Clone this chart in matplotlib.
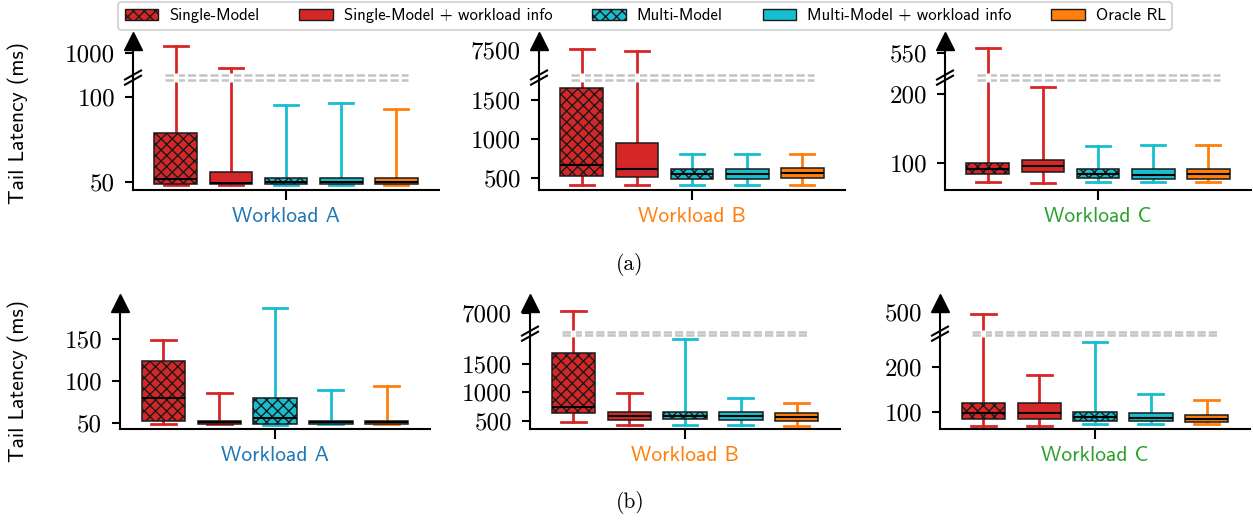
import numpy as np
import matplotlib; matplotlib.use("Agg")
import matplotlib.pyplot as plt
import matplotlib.transforms as mtransforms
from matplotlib.patches import Patch
from matplotlib.ticker import NullLocator

# ── Data (ms) ─────────────────────────────────────────────────────────────
METHODS   = ["Single-Model", "Single-Model + workload info", "Multi-Model",
             "Multi-Model + workload info", "Oracle RL"]
WORKLOADS = ["Workload A", "Workload B", "Workload C"]

# row (a): one inner list per workload, one value per method
A_WHISLO = [[48.5, 48.5, 48.5, 48.5, 48.5],
            [414, 414, 414, 414, 414],
            [73.5, 72, 73.5, 72.6, 73.5]]
A_Q1     = [[49, 49, 49, 49, 49],
            [525, 513, 491, 491, 500],
            [84.6, 87, 78.8, 77.3, 78.1]]
A_MED    = [[51.9, 49.5, 50.5, 50, 50],
            [666, 619, 558, 558, 562],
            [92.2, 96.1, 84.6, 83.6, 84.6]]
A_Q3     = [[78.8, 55.9, 52.5, 52.5, 52.3],
            [1657, 947, 623, 623, 628],
            [100.9, 104.8, 91.3, 91.3, 92.2]]
A_WHISHI = [[1273, 438, 95.6, 96.5, 93.1],
            [7659, 7273, 814, 814, 814],
            [607, 210.5, 125, 126.4, 126.4]]

# row (b)
B_WHISLO = [[48.1, 48, 47.8, 48, 48],
            [472, 419, 419, 419, 407],
            [69.3, 69.5, 74.3, 73.9, 74.3]]
B_Q1     = [[52, 48.1, 48.1, 48.1, 48.1],
            [630, 512, 530, 512, 495],
            [84.6, 85.3, 81, 81, 79.4]]
B_MED    = [[79.2, 50.5, 56, 50.5, 50.5],
            [736, 583, 583, 583, 560],
            [99.1, 99.1, 90.4, 86.8, 85.3]]
B_Q3     = [[123.8, 52.4, 79.2, 52.4, 52.4],
            [1699, 648, 659, 648, 630],
            [119.7, 121, 101.3, 99.1, 93.4]]
B_WHISHI = [[149.5, 85.2, 186.8, 89.1, 93.5],
            [7836, 983, 1935, 895, 812],
            [473, 181, 254.8, 140, 127]]

# broken-axis knots: data values -> axis fraction
A_KNOTS = [([45.5, 108, 300, 1460],     [0, .7134, .7919, 1]),
           ([350.6, 1704, 2500, 9545],  [0, .7114, .7919, 1]),
           ([61.5, 214.4, 300, 701.6],  [0, .7114, .7919, 1])]
B_KNOTS = [([42.1, 193.8],              [0, 1]),
           ([348, 1935, 2500, 10472],   [0, .7098, .8044, 1]),
           ([62.7, 260, 320, 606],      [0, .7098, .8044, 1])]
A_TICKS = [[50, 100, 1000], [500, 1000, 1500, 7500], [100, 200, 550]]
B_TICKS = [[50, 100, 150], [500, 1000, 1500, 7000], [100, 200, 500]]

COLORS  = ["#d62728", "#d62728", "#17becf", "#17becf", "#ff7f0e"]
HATCHES = ["xxx", "", "xxx", "", ""]
WL_COLORS = ["#1f77b4", "#ff7f0e", "#2ca02c"]

SERIF, SANS = "cmr10", "cmss10"
plt.rcParams["hatch.linewidth"] = 1.0
plt.rcParams["axes.unicode_minus"] = False

W, H = 1253, 520
fig = plt.figure(figsize=(W / 100, H / 100), dpi=100)

BAND = (0.740, 0.769)  # dashed break lines, axis fraction


def make_scale(vals, fracs):
    v = np.asarray(vals, float); f = np.asarray(fracs, float)
    def lin(x, xs, ys):
        x = np.asarray(x, float)
        out = np.interp(x, xs, ys)
        out = np.where(x < xs[0], ys[0] + (x - xs[0]) * (ys[1] - ys[0]) / (xs[1] - xs[0]), out)
        out = np.where(x > xs[-1], ys[-1] + (x - xs[-1]) * (ys[-1] - ys[-2]) / (xs[-1] - xs[-2]), out)
        return out
    return (lambda y: lin(y, v, f)), (lambda t: lin(t, f, v))


def panel(rect, wi, lo, q1, med, q3, hi, knots, ticks):
    ax = fig.add_axes(rect)
    vals, fracs = knots
    fwd, inv = make_scale(vals, fracs)
    ax.set_yscale("function", functions=(fwd, inv))
    ax.set_ylim(vals[0], vals[-1])
    ax.set_xlim(0.22, 5.78)

    stats = [dict(med=med[i], q1=q1[i], q3=q3[i], whislo=lo[i], whishi=hi[i],
                  fliers=[]) for i in range(5)]
    pos = np.arange(1, 6)
    res = ax.bxp(stats, positions=pos, widths=0.78, capwidths=0.44,
                 patch_artist=True, showfliers=False,
                 medianprops=dict(color="black", lw=1.5, zorder=4),
                 boxprops=dict(lw=1.1, edgecolor="#1a1a1a", zorder=3),
                 whiskerprops=dict(lw=2.0), capprops=dict(lw=2.0))
    for i in range(5):
        b = res["boxes"][i]
        b.set_facecolor(COLORS[i]); b.set_hatch(HATCHES[i])
        for ln in res["whiskers"][2*i:2*i+2] + res["caps"][2*i:2*i+2]:
            ln.set_color(COLORS[i])

    broken = len(vals) > 2
    xt = ax.get_xaxis_transform()
    if broken:
        for yf in BAND:
            ax.plot([0.8, 5.22], [yf, yf], transform=xt, color="#c4c4c4",
                    lw=1.8, ls=(0, (3.3, 1.2)), zorder=1.5)
        for i in range(5):
            if fwd(hi[i]) > BAND[1]:
                ax.plot([pos[i], pos[i]], [BAND[0] - 0.014, BAND[1] + 0.014],
                        transform=xt, color="white", lw=3.6, zorder=5,
                        solid_capstyle="butt")
        # "//" marks on the y spine
        tr = fig.dpi_scale_trans + mtransforms.ScaledTranslation(
            0, (BAND[0] + BAND[1]) / 2, ax.transAxes)
        for off in (-0.026, 0.026):
            ax.plot([-0.08, 0.08], [-0.045 + off, 0.045 + off], transform=tr,
                    color="black", lw=1.5, clip_on=False, zorder=6)

    # arrow on the y spine
    ax.plot([0], [1], marker="^", ms=13, color="black", transform=ax.transAxes,
            clip_on=False, zorder=6)

    for s in ("top", "right"):
        ax.spines[s].set_visible(False)
    for s in ("left", "bottom"):
        ax.spines[s].set_linewidth(1.5)

    ax.set_yticks(ticks)
    ax.set_yticklabels([str(t) for t in ticks], fontfamily=SERIF, fontsize=18)
    ax.yaxis.set_minor_locator(NullLocator())
    ax.tick_params(axis="y", length=6, width=1.5, pad=7)
    ax.set_xticks([3])
    ax.set_xticklabels([WORKLOADS[wi]], color=WL_COLORS[wi], fontfamily=SANS,
                       fontsize=15.5)
    ax.tick_params(axis="x", length=7, width=1.5, pad=5)
    return ax


rows = [
    (0.6346, 0.2865, [133, 539, 945], 306,
     A_WHISLO, A_Q1, A_MED, A_Q3, A_WHISHI, A_KNOTS, A_TICKS),
    (0.1744, 0.2438, [120, 530, 940], 310,
     B_WHISLO, B_Q1, B_MED, B_Q3, B_WHISHI, B_KNOTS, B_TICKS),
]
for bottom, height, lefts, width, lo, q1, med, q3, hi, knots, ticks in rows:
    for wi in range(3):
        panel([lefts[wi] / W, bottom, width / W, height], wi,
              lo[wi], q1[wi], med[wi], q3[wi], hi[wi], knots[wi], ticks[wi])

for yc in (123.5, 380.5):
    fig.text(18 / W, 1 - yc / H, "Tail Latency (ms)", rotation=90, ha="center",
             va="center", family=SANS, size=15.5)
fig.text(630 / W, 1 - 265 / H, "(a)", ha="center", va="center", family=SERIF, size=15.5)
fig.text(630 / W, 1 - 503 / H, "(b)", ha="center", va="center", family=SERIF, size=15.5)

handles = [Patch(facecolor=c, edgecolor="#1a1a1a", hatch=h, lw=1.0)
           for c, h in zip(COLORS, HATCHES)]
leg = fig.legend(handles, METHODS, loc="upper center", bbox_to_anchor=(0.515, 1.0),
                 ncol=5, prop=dict(family=SANS, size=12), frameon=True,
                 edgecolor="#cccccc", fancybox=True, handlelength=2.0,
                 handleheight=0.7, handletextpad=0.66, columnspacing=2.4,
                 borderaxespad=0.1)
leg.get_frame().set_linewidth(1.5)

fig.savefig("out.png", dpi=100)
